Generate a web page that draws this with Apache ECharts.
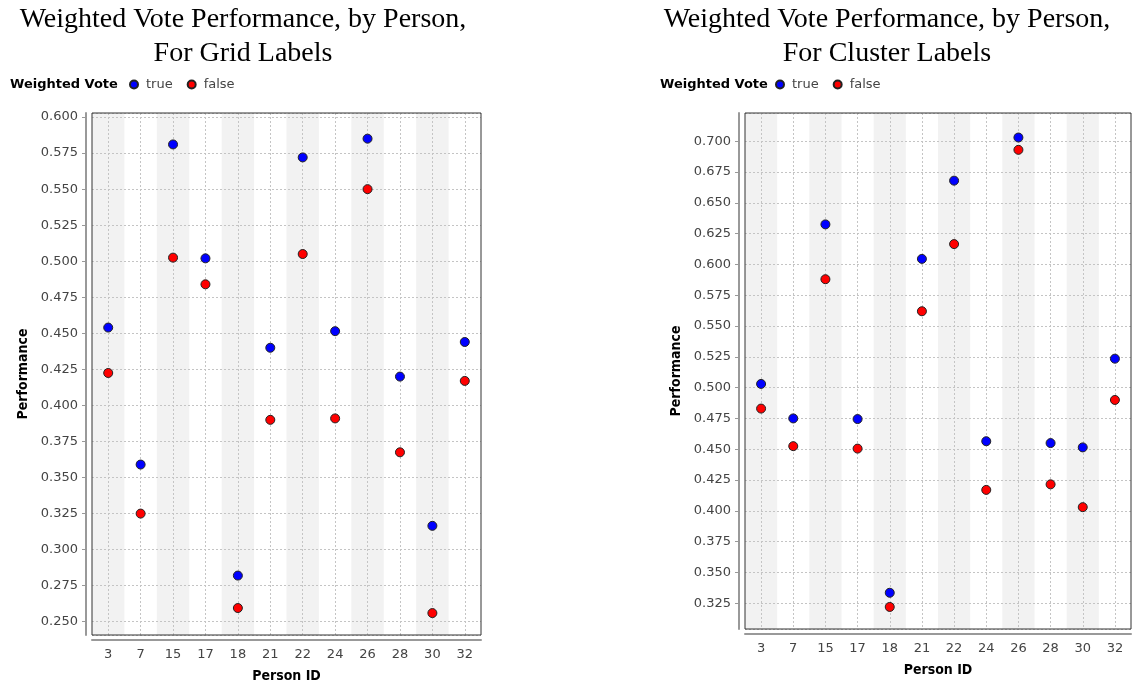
<!DOCTYPE html>
<html><head><meta charset="utf-8">
<script src="https://cdn.jsdelivr.net/npm/echarts@6/dist/echarts.min.js"></script>
<style>html,body{margin:0;padding:0;background:#fff}#c{width:1140px;height:684px}</style>
</head><body><div id="c"></div>
<script>
// ---- data ----
const personIds = ['3', '7', '15', '17', '18', '21', '22', '24', '26', '28', '30', '32'];
const seriesNames = ['true', 'false'];
const gridTrue  = [0.454, 0.359, 0.581, 0.502, 0.282, 0.440, 0.572, 0.4515, 0.585, 0.420, 0.3165, 0.444];
const gridFalse = [0.4225, 0.325, 0.5025, 0.484, 0.2595, 0.390, 0.505, 0.391, 0.550, 0.3675, 0.256, 0.417];
const clusterTrue  = [0.503, 0.475, 0.6325, 0.4745, 0.3335, 0.6045, 0.668, 0.4565, 0.703, 0.455, 0.4515, 0.5235];
const clusterFalse = [0.483, 0.4525, 0.588, 0.4505, 0.322, 0.562, 0.6165, 0.417, 0.693, 0.4215, 0.403, 0.490];
const gridYRange = [0.2408, 0.6028];
const clusterYRange = [0.3041, 0.7229];
const yTickStep = 0.025;
const chartTitles = [
  'Weighted Vote Performance, by Person,\nFor Grid Labels',
  'Weighted Vote Performance, by Person,\nFor Cluster Labels'
];
const legendTitle = 'Weighted Vote';
const xName = 'Person ID';
const yName = 'Performance';
const colors = { 'true': '#0000ff', 'false': '#ff0000' };

// ---- styles ----
const tickFont = 'DejaVu Sans';
const boldNameFont = "'DejaVu Sans Condensed', 'Liberation Sans Narrow', 'DejaVu Sans', sans-serif";
const titleFont = "'Liberation Serif', 'Times New Roman', serif";

const layouts = [
  { grid: { left: 92, top: 113, width: 389, height: 522 }, titleX: 243, legendTitleX: 10, legendX: 129 },
  { grid: { left: 745, top: 113, width: 386, height: 516 }, titleX: 887, legendTitleX: 660, legendX: 775 }
];
const yRanges = [gridYRange, clusterYRange];
const seriesData = [[gridTrue, gridFalse], [clusterTrue, clusterFalse]];

const option = {
  animation: false,
  backgroundColor: '#ffffff',
  title: [],
  legend: [],
  grid: [],
  xAxis: [],
  yAxis: [],
  series: []
};

layouts.forEach((L, i) => {
  option.title.push({
    text: chartTitles[i], left: L.titleX, top: 3, textAlign: 'center', padding: 0,
    textStyle: { fontFamily: titleFont, fontSize: 28, fontWeight: 'normal', color: '#000', lineHeight: 34 }
  });
  option.title.push({
    text: legendTitle, left: L.legendTitleX, top: 78, padding: 0,
    textStyle: { fontFamily: 'DejaVu Sans', fontSize: 13, fontWeight: 'bold', color: '#000' }
  });
  option.legend.push({
    data: seriesNames, left: L.legendX, top: 78, padding: 0, orient: 'horizontal',
    icon: 'circle', itemWidth: 14, itemHeight: 8, itemGap: 14,
    selectedMode: false,
    textStyle: { fontFamily: tickFont, fontSize: 13, color: '#444' }
  });
  option.grid.push(Object.assign({
    show: true, borderColor: '#333', borderWidth: 1, backgroundColor: 'transparent',
    containLabel: false, outerBoundsMode: 'none', z: 2
  }, L.grid));
  option.xAxis.push({
    type: 'category', gridIndex: i, data: personIds, boundaryGap: true, offset: 5, z: 0,
    axisLine: { show: true, lineStyle: { color: '#999', width: 2 } },
    axisTick: { show: false },
    axisLabel: { color: '#444', fontFamily: tickFont, fontSize: 13, margin: 8 },
    splitLine: { show: true, alignWithLabel: true, lineStyle: { color: '#c4c4c4', type: [2, 2], width: 1 } },
    splitArea: { show: true, areaStyle: { color: ['#f2f2f2', 'rgba(255,255,255,0)'] } },
    name: xName, nameLocation: 'middle', nameGap: 29,
    nameTextStyle: { fontFamily: boldNameFont, fontWeight: 'bold', fontSize: 14, color: '#000' }
  });
  option.yAxis.push({
    type: 'value', gridIndex: i, min: yRanges[i][0], max: yRanges[i][1], z: 1,
    minInterval: yTickStep, maxInterval: yTickStep, offset: 6,
    axisLine: { show: true, lineStyle: { color: '#999', width: 2 } },
    axisTick: { show: true, length: 4, lineStyle: { color: '#999' } },
    axisLabel: {
      color: '#444', fontFamily: tickFont, fontSize: 13, margin: 8,
      showMinLabel: false, showMaxLabel: false,
      formatter: v => v.toFixed(3)
    },
    splitLine: { show: true, lineStyle: { color: '#c4c4c4', type: [2, 2], width: 1 } },
    name: yName, nameLocation: 'middle', nameGap: 56,
    nameTextStyle: { fontFamily: boldNameFont, fontWeight: 'bold', fontSize: 14, color: '#000' }
  });
  seriesNames.forEach((name, k) => {
    option.series.push({
      name: name, type: 'scatter', xAxisIndex: i, yAxisIndex: i,
      data: seriesData[i][k], symbol: 'circle', symbolSize: 9,
      itemStyle: { color: colors[name], borderColor: '#222', borderWidth: 1, opacity: 1 },
      emphasis: { disabled: true }, z: 3
    });
  });
});

const chart = echarts.init(document.getElementById('c'), null, { renderer: 'canvas' });
chart.setOption(option);
</script>
</body></html>
